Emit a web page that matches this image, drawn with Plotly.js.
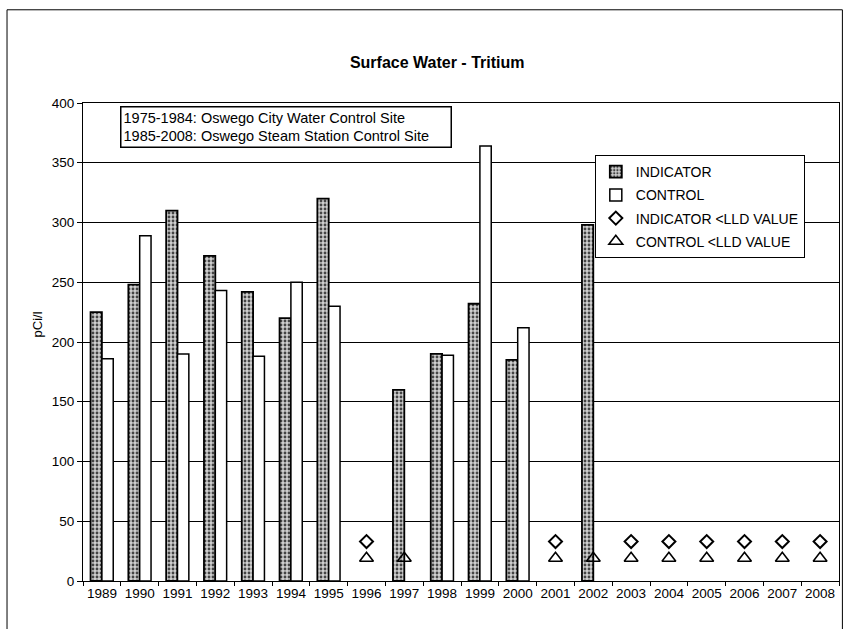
<!DOCTYPE html>
<html>
<head>
<meta charset="utf-8">
<script src="https://cdn.plot.ly/plotly-3.0.1.min.js"></script>
<style>html,body{margin:0;padding:0;background:#fff;}#chart{width:844px;height:629px;}</style>
</head>
<body>
<div id="chart"></div>
<script>
const years = ['1989','1990','1991','1992','1993','1994','1995','1996','1997','1998','1999','2000','2001','2002','2003','2004','2005','2006','2007','2008'];
const indicator = [225, 248, 310, 272, 242, 220, 320, null, 160, 190, 232, 185, null, 298, null, null, null, null, null, null];
const control   = [186, 289, 190, 243, 188, 250, 230, null, null, 189, 364, 212, null, null, null, null, null, null, null, null];
const indicatorLLDYears = ['1996','2001','2003','2004','2005','2006','2007','2008'];
const indicatorLLD = [33, 33, 33, 33, 33, 33, 33, 33];
const controlLLDYears = ['1996','1997','2001','2002','2003','2004','2005','2006','2007','2008'];
const controlLLD = [19, 19, 19, 19, 19, 19, 19, 19, 19, 19];
const siteNotes = ['1975-1984: Oswego City Water Control Site', '1985-2008: Oswego Steam Station Control Site'];

const FONT = 'Liberation Sans, Arial, sans-serif';

const traces = [
  {
    type: 'bar', name: 'INDICATOR', x: years, y: indicator, legendgroup: 'a',
    marker: {
      color: '#bdbdbd',
      line: {color: '#000', width: 1.8},
      pattern: {shape: '.', bgcolor: '#cfcfcf', fgcolor: '#444', size: 4, solidity: 0.4}
    }
  },
  {
    type: 'bar', name: 'CONTROL', x: years, y: control, legendgroup: 'b',
    marker: {color: '#fff', line: {color: '#000', width: 1.5}}
  },
  {
    type: 'scatter', mode: 'markers', name: 'INDICATOR <LLD VALUE', x: indicatorLLDYears, y: indicatorLLD, legendgroup: 'c',
    marker: {symbol: 'diamond-open', size: 10, color: '#000', line: {color: '#000', width: 2}}
  },
  {
    type: 'scatter', mode: 'markers', name: 'CONTROL <LLD VALUE', x: controlLLDYears, y: controlLLD, legendgroup: 'd',
    marker: {symbol: 'triangle-up-open', size: 12, color: '#000', line: {color: '#000', width: 1.6}}
  }
];

const layout = {
  width: 844, height: 629,
  margin: {l: 83, r: 5, t: 103, b: 48},
  paper_bgcolor: '#fff', plot_bgcolor: '#fff',
  font: {family: FONT, size: 13, color: '#000'},
  title: {
    text: '<b>Surface Water - Tritium</b>',
    font: {family: FONT, size: 16, color: '#000'},
    x: 0.518, xref: 'container', xanchor: 'center',
    y: 0.901, yref: 'container', yanchor: 'middle'
  },
  barmode: 'group', bargap: 0.4, bargroupgap: 0,
  showlegend: true,
  legend: {
    x: 0.677, y: 0.891, xanchor: 'left', yanchor: 'top',
    bgcolor: '#fff', bordercolor: '#000', borderwidth: 1,
    font: {family: FONT, size: 14, color: '#000'},
    traceorder: 'grouped', tracegroupgap: 2,
    itemwidth: 30
  },
  xaxis: {
    type: 'category', categoryorder: 'array', categoryarray: years,
    range: [-0.5, 19.5], autorange: false,
    tickson: 'boundaries', ticks: 'outside', ticklen: 4, tickcolor: '#000', tickwidth: 1,
    tickangle: 0, automargin: false,
    showline: true, linecolor: '#000', linewidth: 1, mirror: true,
    showgrid: false, tickfont: {family: FONT, size: 13.5, color: '#000'},
    fixedrange: true
  },
  yaxis: {
    range: [0, 400], autorange: false, dtick: 50, tick0: 0, automargin: false,
    ticks: 'outside', ticklen: 5, tickcolor: '#000',
    showline: true, linecolor: '#000', linewidth: 1, mirror: true,
    showgrid: true, gridcolor: '#000', gridwidth: 1, zeroline: false,
    tickfont: {family: FONT, size: 13.5, color: '#000'},
    fixedrange: true
  },
  annotations: [
    {
      text: siteNotes.join('<br>'), xref: 'paper', yref: 'paper',
      x: 0.049, y: 0.994, xanchor: 'left', yanchor: 'top', align: 'left',
      width: 325,
      showarrow: false, bordercolor: '#000', borderwidth: 1.5, borderpad: 2,
      bgcolor: '#fff', font: {family: FONT, size: 14.5, color: '#000'}
    },
    {
      text: 'pCi/l', xref: 'paper', yref: 'paper',
      x: -0.06, y: 0.536, xanchor: 'center', yanchor: 'middle', textangle: -90,
      showarrow: false, font: {family: FONT, size: 13, color: '#000'}
    }
  ],
  shapes: [
    {type: 'rect', xref: 'paper', yref: 'paper', x0: -0.1005, x1: 1.0045, y0: -0.12, y1: 1.195,
     line: {color: '#000', width: 1}, fillcolor: 'rgba(0,0,0,0)', layer: 'below'}
  ]
};

Plotly.newPlot('chart', traces, layout, {staticPlot: true, displayModeBar: false});
</script>
</body>
</html>
